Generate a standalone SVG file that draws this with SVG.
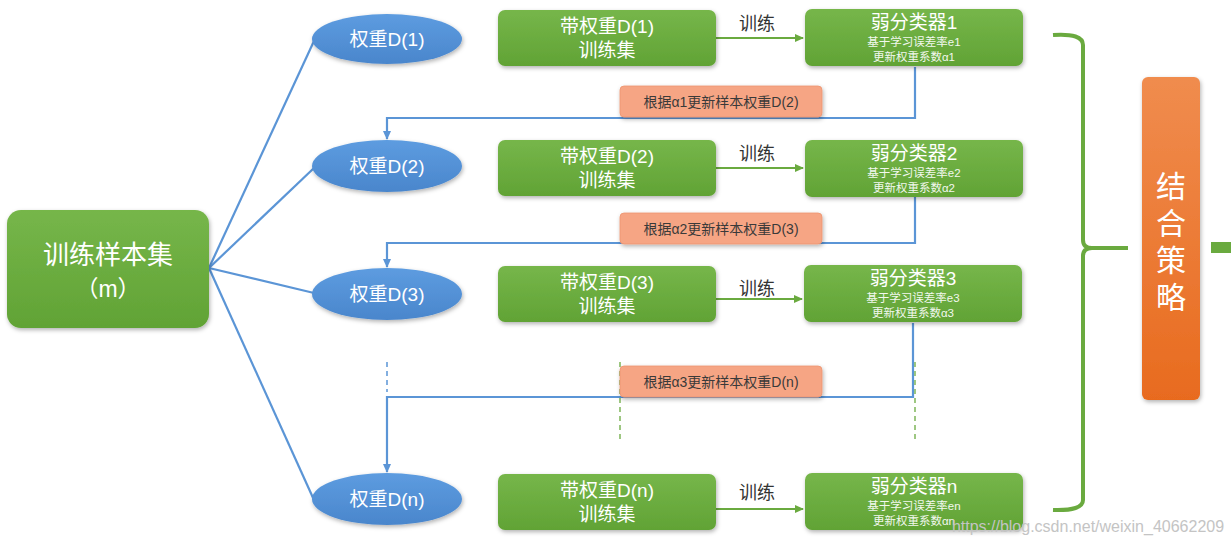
<svg xmlns="http://www.w3.org/2000/svg" width="1231" height="545" viewBox="0 0 1231 545">
<style>
text{font-family:"Liberation Sans","Noto Sans CJK SC",sans-serif;text-anchor:middle}
.w{fill:#fff}
.gbox{fill:url(#gg);filter:url(#sh)}
.ell{fill:url(#bg);filter:url(#sh)}
.lbl{fill:#f6a584;stroke:#ee9470;stroke-width:0.8;filter:url(#sh)}
.lt{fill:#3a3a3a;font-size:14px}
.ln{fill:none;stroke:#5b95d6;stroke-width:2.2}
.dash{fill:none;stroke:#5b95d6;stroke-width:1.5;stroke-dasharray:5 4}
.gd{fill:none;stroke:#6aaa3f;stroke-width:1.3;stroke-dasharray:5 4}
.ga{fill:none;stroke:#6aaa3f;stroke-width:2}
.tr{fill:#333;font-size:18px}
.t19{font-size:19px;fill:#fff}
.sub{font-size:11.5px;fill:#f2f8ee}
</style>
<defs>
<linearGradient id="gg" x1="0" y1="0" x2="0" y2="1"><stop offset="0" stop-color="#76b64a"/><stop offset="1" stop-color="#61a335"/></linearGradient>
<linearGradient id="bg" x1="0" y1="0" x2="0" y2="1"><stop offset="0" stop-color="#5d9ce0"/><stop offset="1" stop-color="#4a86cc"/></linearGradient>
<linearGradient id="og" x1="0" y1="0" x2="0" y2="1"><stop offset="0" stop-color="#f08c4e"/><stop offset="1" stop-color="#e86b1f"/></linearGradient>
<filter id="sh" x="-10%" y="-20%" width="120%" height="150%"><feDropShadow dx="1" dy="2" stdDeviation="2" flood-color="#000" flood-opacity="0.3"/></filter>
<marker id="ab" markerWidth="10" markerHeight="10" refX="8" refY="5" orient="auto" markerUnits="userSpaceOnUse"><path d="M0,1 L9,5 L0,9 Z" fill="#5b95d6"/></marker>
<marker id="ag" markerWidth="10" markerHeight="10" refX="8" refY="5" orient="auto" markerUnits="userSpaceOnUse"><path d="M0,1 L9,5 L0,9 Z" fill="#6aaa3f"/></marker>
</defs>
<rect width="1231" height="545" fill="#fff"/>

<g id="connectors">
<path class="ln" d="M209,268 L314,41"/>
<path class="ln" d="M209,268 L314,168"/>
<path class="ln" d="M209,268 L314,293"/>
<path class="ln" d="M209,268 L314,500"/>
<path class="ga" d="M716,38 L803,38" marker-end="url(#ag)"/>
<path class="ga" d="M716,168 L803,168" marker-end="url(#ag)"/>
<path class="ga" d="M716,299 L802,299" marker-end="url(#ag)"/>
<path class="ga" d="M716,509 L803,509" marker-end="url(#ag)"/>
<path class="ln" d="M915,67 L915,118 L387,118 L387,139" marker-end="url(#ab)"/>
<path class="ln" d="M915,197 L915,243 L387,243 L387,267" marker-end="url(#ab)"/>
<path class="ln" d="M913,323 L913,397 L387,397 L387,472" marker-end="url(#ab)"/>
<path class="dash" d="M387,362 L387,392"/>
<path class="gd" d="M620,362 L620,440"/>
<path class="gd" d="M915,362 L915,440"/>
<path d="M1053,35 Q1083,33 1083,45 L1083,240 Q1083,248 1092,248 L1128,248 M1092,248 Q1083,248 1083,256 L1083,500 Q1083,511 1053,510" fill="none" stroke="#6aaa3f" stroke-width="4"/>
<rect x="1211" y="242" width="20" height="11" fill="#6aaa3f"/>
</g>

<g id="n-train">
<rect class="gbox" x="7" y="210" width="202" height="118" rx="14"/>
<text class="w" x="108" y="264" font-size="26">训练样本集</text>
<text class="w" x="108" y="297" font-size="23">（m）</text>
</g>

<g id="n-d1"><ellipse class="ell" cx="387" cy="39" rx="75" ry="25"/><text class="t19" x="387" y="46">权重D(1)</text></g>
<g id="n-d2"><ellipse class="ell" cx="387" cy="166" rx="75" ry="26"/><text class="t19" x="387" y="173">权重D(2)</text></g>
<g id="n-d3"><ellipse class="ell" cx="387" cy="294" rx="75" ry="26"/><text class="t19" x="387" y="301">权重D(3)</text></g>
<g id="n-dn"><ellipse class="ell" cx="387" cy="499" rx="75" ry="26"/><text class="t19" x="387" y="506">权重D(n)</text></g>

<g id="n-ts1"><rect class="gbox" x="498" y="10" width="218" height="56" rx="7"/><text class="t19" x="607" y="33">带权重D(1)</text><text class="t19" x="607" y="57">训练集</text></g>
<g id="n-ts2"><rect class="gbox" x="498" y="140" width="218" height="56" rx="7"/><text class="t19" x="607" y="163">带权重D(2)</text><text class="t19" x="607" y="187">训练集</text></g>
<g id="n-ts3"><rect class="gbox" x="498" y="266" width="218" height="56" rx="7"/><text class="t19" x="607" y="289">带权重D(3)</text><text class="t19" x="607" y="313">训练集</text></g>
<g id="n-tsn"><rect class="gbox" x="498" y="474" width="218" height="56" rx="7"/><text class="t19" x="607" y="497">带权重D(n)</text><text class="t19" x="607" y="521">训练集</text></g>

<g id="e-labels">
<text class="tr" x="757" y="30">训练</text>
<text class="tr" x="757" y="160">训练</text>
<text class="tr" x="757" y="295">训练</text>
<text class="tr" x="757" y="499">训练</text>
</g>

<g id="n-c1"><rect class="gbox" x="805" y="9" width="218" height="57" rx="7"/><text class="t19" x="914" y="29">弱分类器1</text><text class="sub" x="914" y="46">基于学习误差率e1</text><text class="sub" x="914" y="61">更新权重系数α1</text></g>
<g id="n-c2"><rect class="gbox" x="805" y="140" width="218" height="57" rx="7"/><text class="t19" x="914" y="160">弱分类器2</text><text class="sub" x="914" y="177">基于学习误差率e2</text><text class="sub" x="914" y="192">更新权重系数α2</text></g>
<g id="n-c3"><rect class="gbox" x="804" y="265" width="218" height="57" rx="7"/><text class="t19" x="913" y="285">弱分类器3</text><text class="sub" x="913" y="302">基于学习误差率e3</text><text class="sub" x="913" y="317">更新权重系数α3</text></g>
<g id="n-cn"><rect class="gbox" x="805" y="473" width="218" height="57" rx="7"/><text class="t19" x="914" y="493">弱分类器n</text><text class="sub" x="914" y="510">基于学习误差率en</text><text class="sub" x="914" y="525">更新权重系数αn</text></g>

<g id="n-l1"><rect class="lbl" x="620" y="86" width="202" height="31" rx="4"/><text class="lt" x="721" y="107">根据α1更新样本权重D(2)</text></g>
<g id="n-l2"><rect class="lbl" x="620" y="213" width="202" height="31" rx="4"/><text class="lt" x="721" y="234">根据α2更新样本权重D(3)</text></g>
<g id="n-l3"><rect class="lbl" x="620" y="366" width="202" height="31" rx="4"/><text class="lt" x="721" y="387">根据α3更新样本权重D(n)</text></g>

<g id="n-combine">
<rect x="1142" y="77" width="58" height="323" rx="6" fill="url(#og)" filter="url(#sh)"/>
<text class="w" x="1171" y="197" font-size="30">结</text>
<text class="w" x="1171" y="234" font-size="30">合</text>
<text class="w" x="1171" y="271" font-size="30">策</text>
<text class="w" x="1171" y="308" font-size="30">略</text>
</g>

<text x="1088" y="532" font-size="16" fill="#c4c4c4">https://blog.csdn.net/weixin_40662209</text>
</svg>
